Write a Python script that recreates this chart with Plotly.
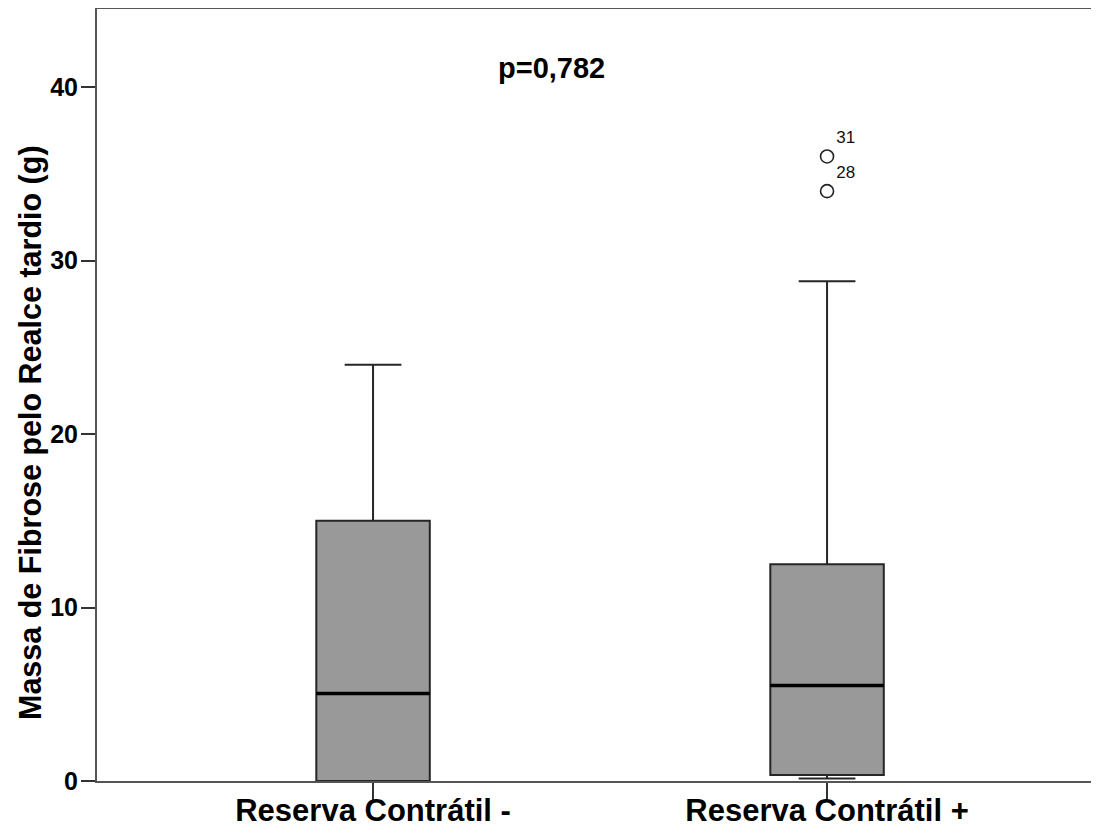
import plotly.graph_objects as go

categories = ["Reserva Contrátil -", "Reserva Contrátil +"]
q1 = [0.0, 0.35]
medians = [5.05, 5.5]
q3 = [15.0, 12.5]
lower_fence = [0.0, 0.15]
upper_fence = [24.0, 28.8]
outlier_values = [36.0, 34.0]
outlier_labels = ["31", "28"]
outlier_group = [1, 1]
y_ticks = [0, 10, 20, 30, 40]
p_text = "p=0,782"
y_title = "Massa de Fibrose pelo Realce tardio (g)"

positions = list(range(len(categories)))
box_w = 0.25
FONT = "Liberation Sans, Arial, sans-serif"

fig = go.Figure()
for i, cat in enumerate(categories):
    fig.add_trace(go.Box(
        x=[positions[i]], q1=[q1[i]], median=[medians[i]], q3=[q3[i]],
        lowerfence=[lower_fence[i]], upperfence=[upper_fence[i]],
        width=box_w, whiskerwidth=0.5,
        fillcolor="#999999", line=dict(color="#262626", width=2),
        boxpoints=False, showlegend=False, hoverinfo="skip", name=cat,
    ))
    fig.add_trace(go.Scatter(
        x=[positions[i] - box_w / 2, positions[i] + box_w / 2],
        y=[medians[i], medians[i]], mode="lines",
        line=dict(color="black", width=3.5), showlegend=False, hoverinfo="skip",
    ))

fig.add_trace(go.Scatter(
    x=[positions[g] for g in outlier_group], y=outlier_values,
    mode="markers+text", text=outlier_labels, textposition="top right",
    textfont=dict(family=FONT, size=17, color="#111111"),
    marker=dict(symbol="circle-open", size=13, color="#222222", line=dict(width=1.6)),
    showlegend=False, hoverinfo="skip", cliponaxis=False,
))

fig.add_annotation(x=0.392, y=41.1, text=p_text, showarrow=False,
                   xref="x", yref="y",
                   font=dict(family=FONT, size=29, color="black", weight="bold"))

fig.add_annotation(x=-0.0669, y=0.452, xref="paper", yref="paper",
                   text=y_title, textangle=-90, showarrow=False,
                   xanchor="center", yanchor="middle",
                   font=dict(family=FONT, size=30.5, color="black", weight="bold"))

fig.update_layout(
    width=1091, height=827,
    margin=dict(l=89, r=0, t=1, b=54, autoexpand=False),
    plot_bgcolor="white", paper_bgcolor="white",
    font=dict(family=FONT, color="black"),
)
fig.update_xaxes(
    range=[-0.608, 1.599], tickmode="array", tickvals=positions, ticktext=categories,
    ticks="outside", ticklen=18, tickwidth=2, tickcolor="#333333",
    showline=True, linecolor="#555555", linewidth=2, mirror=True,
    showgrid=False, zeroline=False, automargin=False, ticklabelstandoff=-17,
    tickfont=dict(family=FONT, size=31, color="black", weight="bold"),
)
fig.update_yaxes(
    range=[0, 44.5], tickmode="array", tickvals=y_ticks,
    ticks="outside", ticklen=14, tickwidth=2, tickcolor="#333333",
    showline=True, linecolor="#555555", linewidth=2,
    showgrid=False, zeroline=False, automargin=False, ticklabelstandoff=-2,
    tickfont=dict(family=FONT, size=25, color="black", weight="bold"),
)

fig.write_html("out.html")
